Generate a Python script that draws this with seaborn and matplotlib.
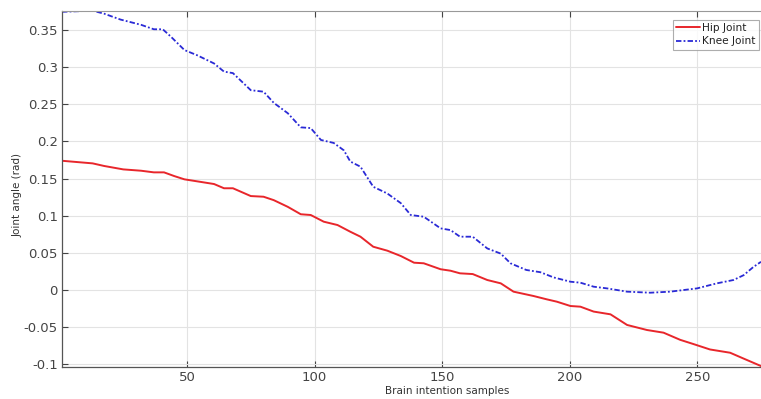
import numpy as np
import pandas as pd
import matplotlib
matplotlib.use("Agg")
import matplotlib.pyplot as plt
import seaborn as sns

knee_x = [1, 13, 17.5, 24, 32, 37, 40.5, 43.7, 49, 54, 60.6, 64.5, 68, 75, 80, 84, 89.5,
          94.6, 98.5, 102.5, 107.5, 111.5, 114, 118, 123, 128.5, 133.8, 137.7, 142.8,
          149.4, 153.3, 157, 162, 167.7, 173, 176.8, 183, 188.5, 193.7, 200.3, 204.2,
          209.4, 214.7, 222.5, 231.6, 239.4, 249.9, 257.7, 264.2, 268.2, 272, 275]
knee_y = [0.3745, 0.376, 0.372, 0.364, 0.357, 0.351, 0.351, 0.341, 0.323, 0.316, 0.305,
          0.294, 0.292, 0.269, 0.267, 0.252, 0.238, 0.219, 0.218, 0.202, 0.198, 0.188,
          0.173, 0.166, 0.139, 0.130, 0.117, 0.101, 0.0987, 0.083, 0.0807, 0.0718, 0.0718,
          0.056, 0.049, 0.036, 0.027, 0.024, 0.017, 0.0112, 0.0099, 0.0045, 0.0022,
          -0.0022, -0.0036, -0.0022, 0.0022, 0.009, 0.0135, 0.020, 0.031, 0.038]

hip_x = [1, 13, 17.5, 25, 32, 37, 41, 45, 49, 54, 60.6, 64.5, 68, 75, 80, 84, 89.5, 94.6,
         98.5, 103.6, 109, 114, 118, 123, 128.5, 133.8, 139, 142.8, 149.4, 153.3, 157,
         162, 167.7, 173, 178, 185.8, 191, 195, 200.3, 204.2, 209.4, 216, 222.5, 230.3,
         236.8, 243.3, 248.5, 255, 262.9, 268, 275]
hip_y = [0.174, 0.1705, 0.167, 0.1624, 0.1606, 0.1584, 0.1584, 0.1534, 0.149, 0.1463,
         0.1427, 0.137, 0.137, 0.1265, 0.1256, 0.121, 0.112, 0.102, 0.101, 0.092, 0.0875,
         0.0785, 0.0718, 0.0583, 0.053, 0.0458, 0.0368, 0.036, 0.028, 0.026, 0.0225,
         0.0215, 0.0135, 0.009, -0.0022, -0.008, -0.0125, -0.0157, -0.0215, -0.0224,
         -0.029, -0.0327, -0.047, -0.0538, -0.0574, -0.067, -0.0727, -0.080, -0.0844,
         -0.092, -0.1023]

x_ticks = [50, 100, 150, 200, 250]
y_ticks = [-0.1, -0.05, 0, 0.05, 0.1, 0.15, 0.2, 0.25, 0.3, 0.35]
y_tick_labels = ['-0.1', '-0.05', '0', '0.05', '0.1', '0.15', '0.2', '0.25', '0.3', '0.35']

sns.set_theme(style="white")
plt.rcParams['font.family'] = ['DejaVu Sans']

fig = plt.figure(figsize=(7.61, 3.99), dpi=100)
ax = fig.add_axes([62/761, 1 - 367/399, 1 - 62/761, (367 - 11)/399])

hip_df = pd.DataFrame({"x": hip_x, "y": hip_y})
knee_df = pd.DataFrame({"x": knee_x, "y": knee_y})
sns.lineplot(data=hip_df, x="x", y="y", ax=ax, color="#e8262b", lw=1.4,
             label="Hip Joint", sort=False)
sns.lineplot(data=knee_df, x="x", y="y", ax=ax, color="#2a2ad6", lw=1.3,
             linestyle=(0, (3, 1.2, 1, 1.2)), label="Knee Joint", sort=False)

ax.set_xlim(1, 275)
ax.set_ylim(-0.1036, 0.3756)
ax.set_xticks(x_ticks)
ax.set_xticklabels([str(t) for t in x_ticks])
ax.set_yticks(y_ticks)
ax.set_yticklabels(y_tick_labels)
ax.grid(True, color="#e3e3e3", lw=0.8)
ax.tick_params(direction="in", length=4, width=0.8, colors="#444444",
               labelsize=9.5, pad=3, top=True, bottom=True, left=True)
for s in ["left", "bottom"]:
    ax.spines[s].set_color("#555555")
    ax.spines[s].set_linewidth(0.9)
ax.spines["top"].set_color("#999999")
ax.spines["top"].set_linewidth(0.8)
ax.spines["right"].set_visible(False)

ax.set_xlabel("")
ax.set_ylabel("")
fig.text(447/761, 1 - 391/399, "Brain intention samples", ha="center", va="center",
         fontsize=7.5, color="#333333")
fig.text(18/761, 1 - 195/399, "Joint angle (rad)", ha="center", va="center",
         rotation=90, fontsize=7.5, color="#333333")

leg = ax.legend(loc="upper right", bbox_to_anchor=(759/761, 1 - 20/399),
                bbox_transform=fig.transFigure, fontsize=7.6, frameon=True,
                fancybox=False, borderpad=0.3, handlelength=2.2, handletextpad=0.25,
                labelspacing=0.3, borderaxespad=0)
leg.get_frame().set_edgecolor("#999999")
leg.get_frame().set_linewidth(0.8)
for t in leg.get_texts():
    t.set_color("#222222")

fig.savefig("out.png", dpi=100)
